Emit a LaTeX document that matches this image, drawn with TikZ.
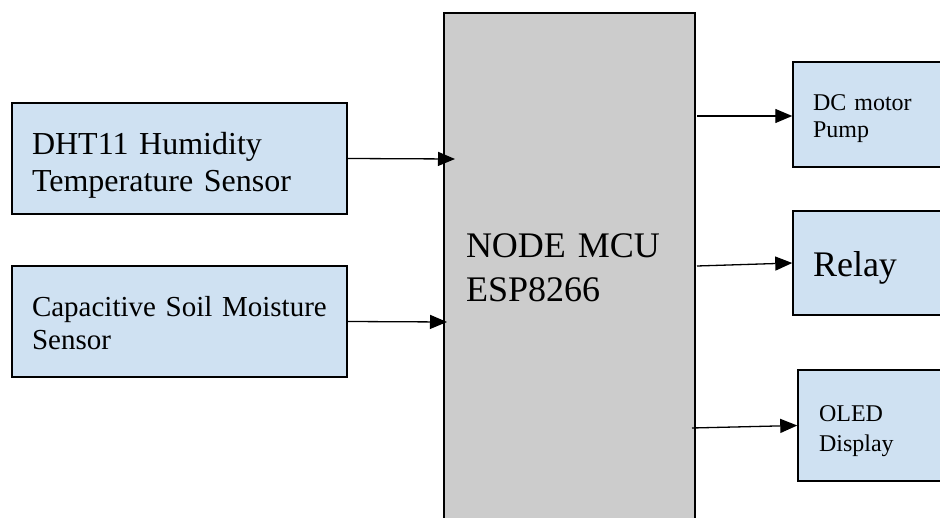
\documentclass[tikz,border=0pt]{standalone}
\usepackage{fontspec}
\setmainfont{Liberation Serif}
\usetikzlibrary{arrows.meta}
\definecolor{boxblue}{RGB}{207,225,242}
\definecolor{mcugray}{RGB}{204,204,204}

\begin{document}
\begin{tikzpicture}[x=1pt,y=-1pt,
    block/.style={draw,line width=1.5pt,fill=boxblue,rectangle,inner xsep=20pt,inner ysep=0pt,align=left},
    link/.style={line width=1.3pt,-{Triangle[length=17pt,width=14pt]}}]
\useasboundingbox (0,0) rectangle (940,518);
\clip (0,0) rectangle (940,518);
% Draw the controller
        \node[block,fill=mcugray,minimum width=251pt,inner xsep=22pt,text width=207pt,
          text height=245pt,text depth=265pt,
          font=\fontsize{36}{44}\selectfont] (mcu) at (569.5,268) {NODE MCU\\ESP8266};
% Draw the sensors
        \node[block,minimum width=335pt,text width=295pt,text height=52pt,text depth=59pt,
          font=\fontsize{32}{37}\selectfont] (dht) at (179.5,158.5) {DHT11 Humidity\\Temperature Sensor};
        \node[block,minimum width=335pt,text width=295pt,text height=51pt,text depth=60pt,
          font=\fontsize{29}{33}\selectfont] (soil) at (179.5,321.5) {Capacitive Soil Moisture\\Sensor};
% Draw the outputs
        \node[block,minimum width=157pt,text width=117pt,text height=49pt,text depth=56pt,
          font=\fontsize{24}{27}\selectfont] (pump) at (871.5,114.5) {DC motor\\Pump};
        \node[block,minimum width=157pt,text width=117pt,text height=66pt,text depth=38pt,
          font=\fontsize{36}{44}\selectfont] (relay) at (871.5,263) {Relay};
        \node[block,minimum width=152pt,inner xsep=21pt,text width=110pt,text height=51pt,text depth=60pt,
          font=\fontsize{24}{31}\selectfont] (oled) at (874,425.5) {OLED\\Display};
% Draw the arrows
        \coordinate (dhtin) at (455,159);
        \coordinate (soilin) at (447,322);
        \coordinate (pumpout) at (697,116);
        \coordinate (relayout) at (697,266);
        \coordinate (oledout) at (692,428);
        \draw[link] (dht.east) -- (dhtin);
        \draw[link] (soil.east) -- (soilin);
        \draw[link] (pumpout) -- (pumpout -| pump.west);
        \draw[link] (relayout) -- (relay.west);
        \draw[link] (oledout) -- (oled.west);
\end{tikzpicture}
\end{document}
